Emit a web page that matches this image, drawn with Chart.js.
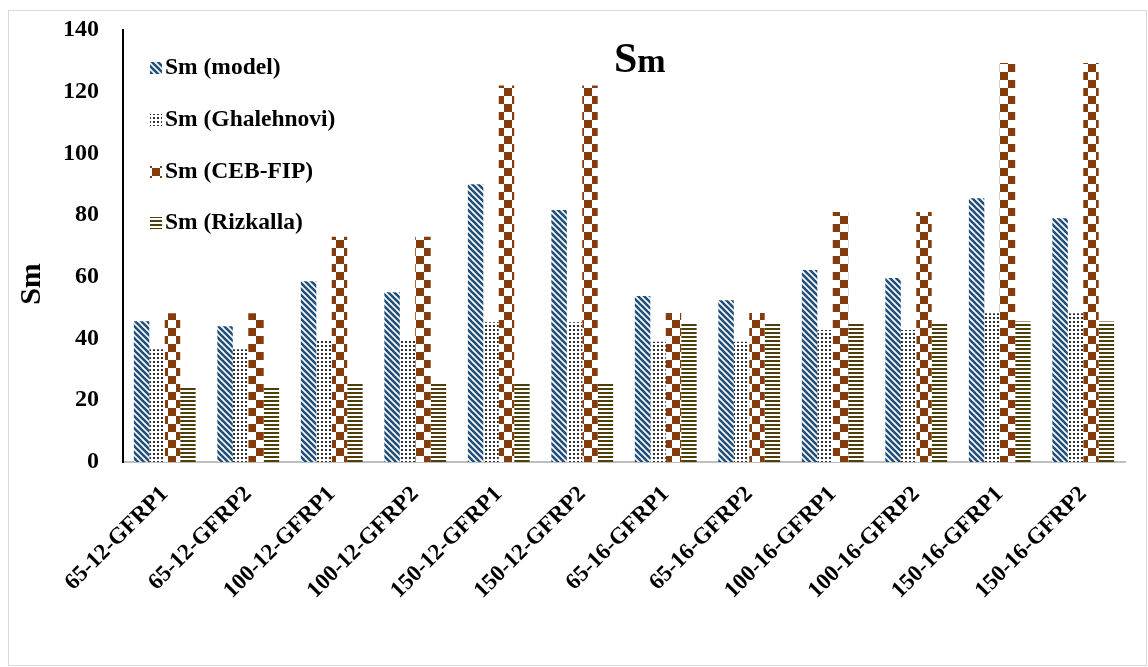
<!DOCTYPE html>
<html lang="en">
<head>
    <meta charset="UTF-8">
    <title>Sm</title>
    <script src="https://cdn.jsdelivr.net/npm/chart.js"></script>
    <style>
        body { margin: 0; background: #fff; overflow: hidden; }
        #wrap { width: 1148px; height: 667px; position: relative; }
    </style>
</head>
<body>
<div id="wrap"><canvas id="smChart" width="1148" height="667"></canvas></div>

<script>
    // data
    const categories = ['65-12-GFRP1', '65-12-GFRP2', '100-12-GFRP1', '100-12-GFRP2', '150-12-GFRP1', '150-12-GFRP2',
                        '65-16-GFRP1', '65-16-GFRP2', '100-16-GFRP1', '100-16-GFRP2', '150-16-GFRP1', '150-16-GFRP2'];
    const smModel      = [45.6, 44.0, 58.6, 55.0, 90.0, 81.7, 53.8, 52.4, 62.2, 59.6, 85.5, 79.0];
    const smGhalehnovi = [36.5, 36.5, 39.5, 39.5, 45.3, 45.3, 39.0, 39.0, 42.8, 42.8, 48.2, 48.2];
    const smCebFip     = [48.2, 48.2, 73.0, 73.0, 122.0, 122.0, 48.3, 48.3, 81.0, 81.0, 129.3, 129.3];
    const smRizkalla   = [24.4, 24.4, 25.6, 25.6, 25.8, 25.8, 45.0, 45.0, 45.0, 45.0, 45.5, 45.5];
    const seriesNames  = ['Sm (model)', 'Sm (Ghalehnovi)', 'Sm (CEB-FIP)', 'Sm (Rizkalla)'];
    const yTicks = [0, 20, 40, 60, 80, 100, 120, 140];

    const FONT = '"Liberation Serif", "Times New Roman", serif';

    function makePattern(size, paint) {
        const c = document.createElement('canvas');
        c.width = size; c.height = size;
        const g = c.getContext('2d');
        g.fillStyle = '#ffffff';
        g.fillRect(0, 0, size, size);
        paint(g);
        return document.createElement('canvas').getContext('2d').createPattern(c, 'repeat');
    }

    // diagonal blue stripes
    const patModel = makePattern(6, g => {
        g.strokeStyle = '#1f4e79';
        g.lineWidth = 2.6;
        g.beginPath();
        g.moveTo(-1, -1); g.lineTo(7, 7);
        g.moveTo(-4, 2); g.lineTo(4, 10);
        g.moveTo(2, -4); g.lineTo(10, 4);
        g.stroke();
    });
    // small dark dots
    const patGhal = makePattern(4, g => {
        g.fillStyle = '#303030';
        g.fillRect(1, 1, 2, 2);
    });
    // brown checkerboard
    const patCeb = makePattern(16, g => {
        g.fillStyle = '#843c0c';
        g.fillRect(0, 0, 8, 8);
        g.fillRect(8, 8, 8, 8);
    });
    // olive horizontal stripes
    const patRiz = makePattern(4, g => {
        g.fillStyle = '#4d3f0a';
        g.fillRect(0, 0, 4, 2);
    });

    const extras = {
        id: 'extras',
        afterDraw(chart) {
            const ctx = chart.ctx;
            ctx.save();
            // outer frame
            ctx.strokeStyle = '#d9d9d9';
            ctx.lineWidth = 1;
            ctx.strokeRect(8.5, 10.5, 1138, 655);

            // title
            ctx.fillStyle = '#000';
            ctx.textBaseline = 'alphabetic';
            ctx.textAlign = 'left';
            ctx.font = 'bold 42px ' + FONT;
            ctx.fillText('S', 614, 72);
            const sw = ctx.measureText('S').width;
            ctx.font = 'bold 34px ' + FONT;
            ctx.fillText('m', 614 + sw, 72);

            // y title
            ctx.save();
            ctx.translate(32, 284);
            ctx.rotate(-Math.PI / 2);
            ctx.font = 'bold 30px ' + FONT;
            ctx.textAlign = 'center';
            ctx.textBaseline = 'middle';
            ctx.fillText('Sm', 0, 0);
            ctx.restore();

            // legend
            const ys = [68, 120, 172, 223];
            chart.data.datasets.forEach((ds, i) => {
                ctx.fillStyle = ds.backgroundColor;
                ctx.fillRect(150, ys[i] - 6, 12, 12);
                ctx.fillStyle = '#000';
                ctx.font = 'bold 23.5px ' + FONT;
                ctx.textAlign = 'left';
                ctx.textBaseline = 'middle';
                ctx.fillText(ds.label, 165, ys[i]);
            });
            ctx.restore();
        }
    };

    const ctx = document.getElementById('smChart').getContext('2d');
    new Chart(ctx, {
        type: 'bar',
        data: {
            labels: categories,
            datasets: [
                { label: seriesNames[0], data: smModel, backgroundColor: patModel },
                { label: seriesNames[1], data: smGhalehnovi, backgroundColor: patGhal },
                { label: seriesNames[2], data: smCebFip, backgroundColor: patCeb },
                { label: seriesNames[3], data: smRizkalla, backgroundColor: patRiz }
            ]
        },
        options: {
            responsive: false,
            animation: false,
            layout: { padding: { left: 9, top: 30, right: 23, bottom: 0 } },
            datasets: { bar: { categoryPercentage: 0.74, barPercentage: 1.0, borderWidth: 0 } },
            plugins: { legend: { display: false }, title: { display: false }, tooltip: { enabled: false } },
            scales: {
                x: {
                    grid: { display: false, drawTicks: false },
                    border: { color: '#bfbfbf', width: 2 },
                    ticks: {
                        autoSkip: false, minRotation: 45, maxRotation: 45, padding: 19,
                        color: '#000', font: { family: FONT, size: 23, weight: 'bold' }
                    },
                    afterFit(scale) { scale.height = 205; scale.paddingTop = 0; scale.paddingBottom = 0; }
                },
                y: {
                    min: 0, max: 140,
                    afterBuildTicks(scale) { scale.ticks = yTicks.map(v => ({ value: v })); },
                    grid: { display: false, drawTicks: false },
                    border: { color: '#000', width: 2 },
                    ticks: { padding: 24, color: '#000', font: { family: FONT, size: 24, weight: 'bold' } },
                    afterFit(scale) { scale.width = 114; scale.paddingTop = 0; scale.paddingBottom = 0; }
                }
            }
        },
        plugins: [extras]
    });
</script>
</body>
</html>
